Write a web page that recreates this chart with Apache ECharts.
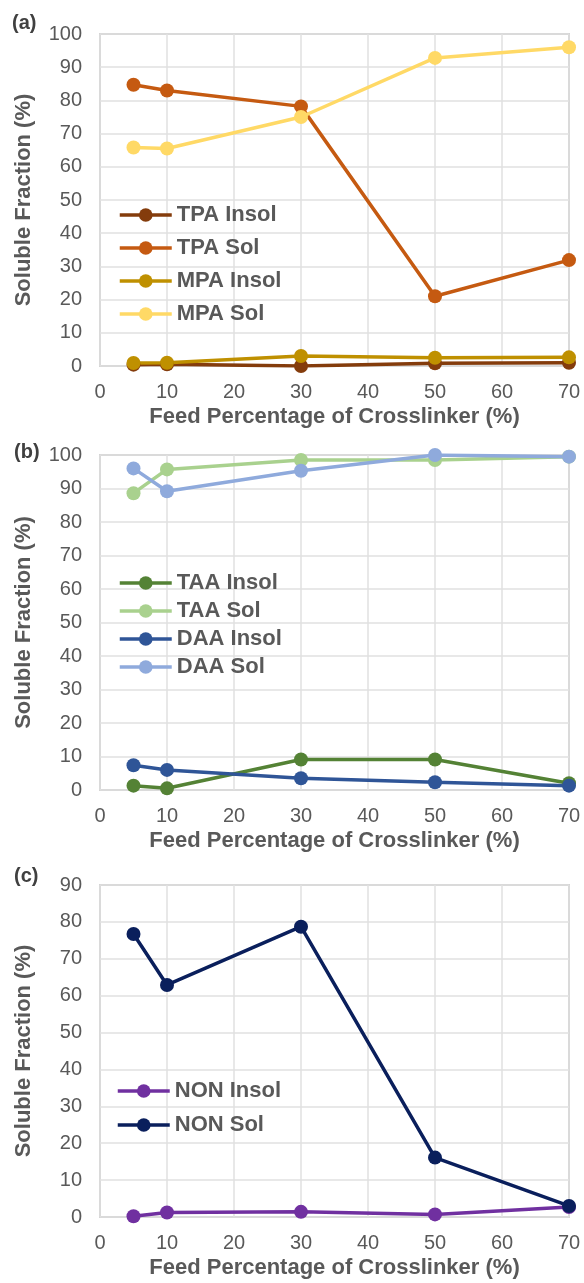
<!DOCTYPE html>
<html><head><meta charset="utf-8">
<script src="https://cdn.jsdelivr.net/npm/echarts@6/dist/echarts.min.js"></script>
<style>html,body{margin:0;padding:0;background:#fff}#c{width:584px;height:1283px}</style>
</head><body><div id="c"></div>
<script>
// Feed percentage of crosslinker (%)
const feedPct = [5, 10, 30, 50, 70];

// Panel (a)
const tpaInsol = [0.4, 0.5, 0.0, 0.8, 1.0];
const tpaSol   = [84.7, 83.0, 78.2, 21.0, 31.9];
const mpaInsol = [0.9, 1.0, 3.0, 2.5, 2.6];
const mpaSol   = [65.8, 65.5, 75.0, 92.8, 96.0];

// Panel (b)
const taaInsol = [1.3, 0.5, 9.1, 9.1, 2.0];
const taaSol   = [88.6, 95.7, 98.5, 98.5, 99.5];
const daaInsol = [7.4, 6.0, 3.5, 2.3, 1.3];
const daaSol   = [96.0, 89.2, 95.3, 100.0, 99.5];

// Panel (c)
const nonInsol = [0.2, 1.2, 1.4, 0.7, 2.7];
const nonSol   = [76.7, 62.9, 78.7, 16.1, 3.0];

const panelLabels = ['(a)', '(b)', '(c)'];
const yMax = [100, 100, 90];
const xTitle = 'Feed Percentage of Crosslinker (%)';
const yTitle = 'Soluble Fraction (%)';

const FONT = '"Liberation Sans", Arial, sans-serif';
const GRAY = '#595959';

const grids = [
  {left: 100, top: 34, width: 469, height: 332},
  {left: 100, top: 455, width: 469, height: 335},
  {left: 100, top: 885, width: 469, height: 332}
];

function pts(ys) { return feedPct.map((x, i) => [x, ys[i]]); }

function mk(name, ys, color, idx) {
  return {
    name: name, type: 'line', xAxisIndex: idx, yAxisIndex: idx,
    data: pts(ys), symbol: 'circle', symbolSize: 14,
    itemStyle: {color: color},
    lineStyle: {color: color, width: 3.5},
    emphasis: {disabled: true}, animation: false
  };
}

const series = [
  mk('TPA Insol', tpaInsol, '#843C0C', 0),
  mk('TPA Sol', tpaSol, '#C55A11', 0),
  mk('MPA Insol', mpaInsol, '#BF9000', 0),
  mk('MPA Sol', mpaSol, '#FFD966', 0),
  mk('TAA Insol', taaInsol, '#548235', 1),
  mk('TAA Sol', taaSol, '#A9D18E', 1),
  mk('DAA Insol', daaInsol, '#2F5597', 1),
  mk('DAA Sol', daaSol, '#8FAADC', 1),
  mk('NON Insol', nonInsol, '#7030A0', 2),
  mk('NON Sol', nonSol, '#0A1F5C', 2)
];

const xAxes = grids.map((g, i) => ({
  type: 'value', gridIndex: i, min: 0, max: 70, interval: 10,
  axisLine: {show: false}, axisTick: {show: false},
  splitLine: {show: true, lineStyle: {color: '#E0E0E0', width: 1.5}},
  axisLabel: {color: GRAY, fontSize: 20, fontFamily: FONT, margin: 16},
  name: xTitle, nameLocation: 'middle', nameGap: 40,
  nameTextStyle: {color: GRAY, fontSize: 22, fontWeight: 'bold', fontFamily: FONT}
}));

const yAxes = grids.map((g, i) => ({
  type: 'value', gridIndex: i, min: 0, max: yMax[i], interval: 10,
  axisLine: {show: false}, axisTick: {show: false},
  splitLine: {show: true, lineStyle: {color: '#E0E0E0', width: 1.5}},
  axisLabel: {color: GRAY, fontSize: 20, fontFamily: FONT, margin: 18},
  name: yTitle, nameLocation: 'middle', nameGap: 65,
  nameTextStyle: {color: GRAY, fontSize: 22, fontWeight: 'bold', fontFamily: FONT}
}));

function legend(names, left, top, gap) {
  return {
    data: names, orient: 'vertical', left: left, top: top, padding: 0,
    itemWidth: 52, itemHeight: 17, itemGap: gap,
    lineStyle: {width: 3.5},
    textStyle: {color: GRAY, fontSize: 22, fontWeight: 'bold', fontFamily: FONT},
    selectedMode: false
  };
}

const option = {
  backgroundColor: '#fff',
  animation: false,
  grid: grids.map(g => Object.assign({show: true, borderColor: '#B4B4B4', borderWidth: 1.5, backgroundColor: 'transparent'}, g)),
  xAxis: xAxes,
  yAxis: yAxes,
  legend: [
    legend(['TPA Insol', 'TPA Sol', 'MPA Insol', 'MPA Sol'], 118, 204, 11),
    legend(['TAA Insol', 'TAA Sol', 'DAA Insol', 'DAA Sol'], 118, 572, 6),
    legend(['NON Insol', 'NON Sol'], 116, 1080, 12)
  ],
  graphic: [
    {type: 'text', left: 12, top: 13, style: {text: panelLabels[0], fill: '#404040', font: 'bold 20px ' + FONT}},
    {type: 'text', left: 14, top: 442, style: {text: panelLabels[1], fill: '#404040', font: 'bold 20px ' + FONT}},
    {type: 'text', left: 14, top: 866, style: {text: panelLabels[2], fill: '#404040', font: 'bold 20px ' + FONT}}
  ],
  series: series
};

const chart = echarts.init(document.getElementById('c'), null, {renderer: 'canvas'});
chart.setOption(option);
</script></body></html>
